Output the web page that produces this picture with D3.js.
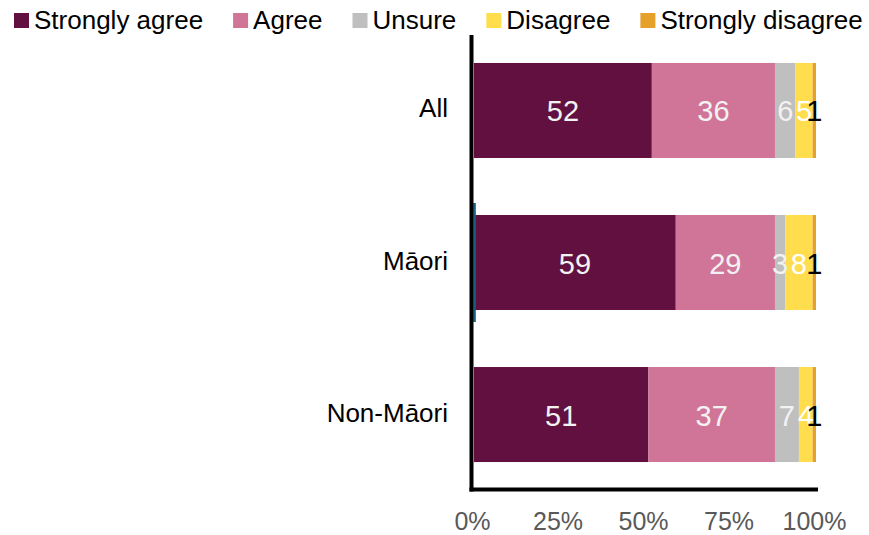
<!DOCTYPE html>
<html>
<head>
<meta charset="utf-8">
<script src="https://cdn.jsdelivr.net/npm/d3@7"></script>
<style>
  html, body { margin: 0; padding: 0; background: #fff; }
  svg { display: block; font-family: "Liberation Sans", Arial, sans-serif; }
</style>
</head>
<body>
<svg id="chart" width="869" height="535"></svg>
<script>
// Survey groups and response shares (percent)
const groups = ["All", "Māori", "Non-Māori"];
const responses = ["Strongly agree", "Agree", "Unsure", "Disagree", "Strongly disagree"];
const stronglyAgree = [52, 59, 51];
const agree = [36, 29, 37];
const unsure = [6, 3, 7];
const disagree = [5, 8, 4];
const stronglyDisagree = [1, 1, 1];
const tickValues = [0, 25, 50, 75, 100];
const tickLabels = ["0%", "25%", "50%", "75%", "100%"];

const colors = ["#62103F", "#D17598", "#BFBFBF", "#FFDD4D", "#E5A12A"];
const labelColors = ["#F2F2F2", "#F2F2F2", "#F2F2F2", "#FFFFFF", "#000000"];

const seriesValues = [stronglyAgree, agree, unsure, disagree, stronglyDisagree];
const rows = groups.map((g, i) => {
  const r = { group: g };
  responses.forEach((k, j) => { r[k] = seriesValues[j][i]; });
  return r;
});
const stacked = d3.stack().keys(responses)(rows);

const svg = d3.select("#chart");
const x = d3.scaleLinear().domain([0, 100]).range([474, 816]);
const y = d3.scaleBand().domain(groups).range([35, 490])
  .paddingInner(0.375).paddingOuter(0.184);

// Stacked bar segments
const layer = svg.append("g").selectAll("g").data(stacked).join("g")
  .attr("fill", (d, i) => colors[i]);
layer.selectAll("rect").data(d => d).join("rect")
  .attr("x", d => x(d[0]))
  .attr("width", d => x(d[1]) - x(d[0]))
  .attr("y", d => y(d.data.group))
  .attr("height", y.bandwidth());

// Thin marker beside the Māori bar
svg.append("rect")
  .attr("x", x(0) - 0.8).attr("width", 2.6)
  .attr("y", y("Māori") - 12).attr("height", y.bandwidth() + 24)
  .attr("fill", "#1B5E7B");

// Segment value labels
stacked.forEach((s, i) => {
  svg.append("g").selectAll("text").data(s).join("text")
    .attr("x", d => (x(d[0]) + x(d[1])) / 2)
    .attr("y", d => y(d.data.group) + y.bandwidth() / 2 + 11)
    .attr("text-anchor", "middle")
    .attr("font-size", 29)
    .attr("fill", labelColors[i])
    .text(d => d[1] - d[0]);
});

// Axis lines
svg.append("line").attr("x1", 471.5).attr("x2", 471.5).attr("y1", 35).attr("y2", 491.5)
  .attr("stroke", "#000").attr("stroke-width", 4);
svg.append("line").attr("x1", 469.5).attr("x2", 818).attr("y1", 489.5).attr("y2", 489.5)
  .attr("stroke", "#000").attr("stroke-width", 4);

// Bottom tick labels
const xAxis = d3.axisBottom(x).tickValues(tickValues).tickSize(0)
  .tickFormat((d, i) => tickLabels[i]);
const gx = svg.append("g").attr("transform", "translate(0,491)").call(xAxis);
gx.select(".domain").remove();
gx.selectAll("text")
  .attr("y", 0).attr("dy", 0)
  .attr("transform", "translate(-2,39)")
  .attr("font-size", 25).attr("font-family", "Liberation Sans, Arial, sans-serif")
  .attr("fill", "#595959");

// Category labels
svg.append("g").selectAll("text").data(groups).join("text")
  .attr("x", 448)
  .attr("y", d => y(d) + y.bandwidth() / 2 + 7)
  .attr("text-anchor", "end")
  .attr("font-size", 26)
  .attr("fill", "#000")
  .text(d => d);

// Legend
const legend = svg.append("g");
let lx = 14;
responses.forEach((k, i) => {
  legend.append("rect").attr("x", lx).attr("y", 13).attr("width", 15).attr("height", 15)
    .attr("fill", colors[i]);
  const t = legend.append("text").attr("x", lx + 20).attr("y", 29)
    .attr("font-size", 26).attr("fill", "#000").text(k);
  lx += 20 + t.node().getComputedTextLength() + 30;
});
</script>
</body>
</html>
